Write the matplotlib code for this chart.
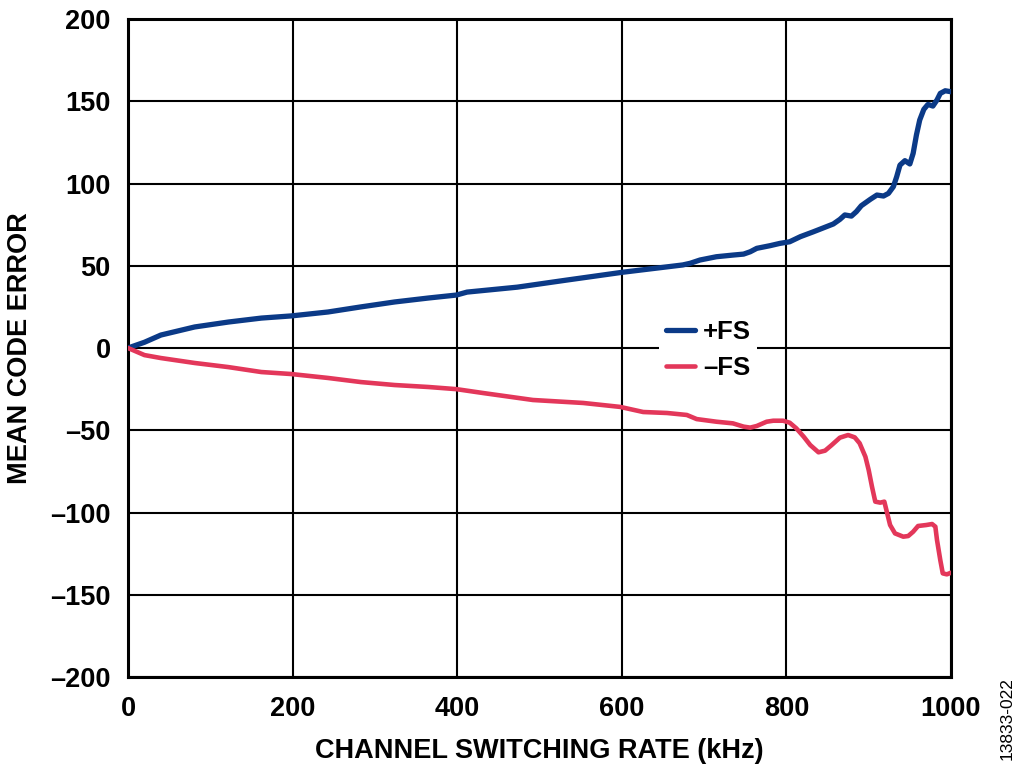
import matplotlib
matplotlib.use("Agg")
import matplotlib.pyplot as plt

plt.rcParams['font.family'] = ['Liberation Sans', 'DejaVu Sans']

pos_x = [0, 20, 40, 81, 122, 162, 198, 243, 283, 324, 365, 399, 412, 473, 533, 600,
         674, 683, 695, 715, 735, 748, 756, 764, 780, 792, 804, 817, 833, 857, 865,
         871, 879, 885, 891, 902, 910, 918, 924, 930, 934, 938, 944, 950, 954, 958,
         962, 967, 972, 978, 983, 987, 993, 1000]
pos_y = [0, 3.5, 7.9, 12.8, 15.8, 18.2, 19.5, 21.9, 25, 28, 30.4, 32.2, 34, 37, 41.3, 46,
         50.5, 51.5, 53.5, 55.5, 56.5, 57.1, 58.5, 60.6, 62.2, 63.6, 64.6, 67.7, 70.7, 75.4,
         78.2, 80.9, 80.2, 82.9, 86.5, 90.4, 93, 92.4, 94, 98.1, 104.1, 111.2, 113.9, 111.9,
         118.3, 129.5, 138.6, 145.1, 148.1, 147.1, 150.8, 154.8, 156.4, 155.8]

neg_x = [0, 20, 40, 81, 122, 162, 198, 243, 283, 324, 365, 399, 432, 492, 553, 598,
         626, 655, 679, 691, 715, 735, 748, 756, 764, 776, 784, 796, 804, 812, 821,
         829, 839, 847, 855, 865, 875, 883, 889, 896, 900, 904, 908, 914, 919, 922,
         926, 932, 942, 948, 954, 960, 970, 977, 981, 983, 987, 990, 995, 1000]
neg_y = [0, -4.3, -6.1, -9.1, -11.6, -14.6, -15.8, -18.2, -20.7, -22.5, -23.7, -25, -27.4,
         -31.6, -33.4, -35.8, -38.9, -39.5, -40.7, -43.2, -44.8, -45.8, -47.8, -48.4, -47.4,
         -44.8, -44.2, -44.2, -45.4, -48.8, -53.9, -59, -63.4, -62.4, -59, -54.5, -52.9,
         -54.3, -57.9, -66.1, -74.2, -84.3, -93.4, -94, -93.4, -99.5, -107.6, -112.7,
         -114.7, -114.3, -111.7, -108.2, -107.6, -107, -108.6, -116.7, -128.9, -137,
         -137.6, -136.6]

x_ticks = [0, 200, 400, 600, 800, 1000]
y_ticks = [200, 150, 100, 50, 0, -50, -100, -150, -200]
y_tick_labels = ['200', '150', '100', '50', '0', '–50', '–100', '–150', '–200']

fig = plt.figure(figsize=(10.24, 7.77), dpi=100)
ax = fig.add_axes([0.125, 0.1287, 0.8037, 0.8468])

ax.plot(pos_x, pos_y, color='#0b3a87', lw=3.8, solid_joinstyle='round',
        solid_capstyle='round', label='+FS', zorder=3)
ax.plot(neg_x, neg_y, color='#e3375a', lw=3.3, solid_joinstyle='round',
        solid_capstyle='round', label='–FS', zorder=3)

ax.set_xlim(0, 1000)
ax.set_ylim(-200, 200)
ax.set_xticks(x_ticks)
ax.set_yticks(y_ticks)
ax.set_yticklabels(y_tick_labels)
ax.grid(True, color='black', lw=1.5)
ax.set_axisbelow(True)
for s in ax.spines.values():
    s.set_linewidth(2.2)
ax.tick_params(length=0, pad=12.5, labelsize=19.5)
ax.tick_params(axis='x', pad=14)
for lab in ax.get_xticklabels() + ax.get_yticklabels():
    lab.set_fontweight('bold')

ax.set_xlabel('CHANNEL SWITCHING RATE (kHz)', fontsize=19.5, fontweight='bold', labelpad=11)
ax.set_ylabel('MEAN CODE ERROR', fontsize=19.5, fontweight='bold', labelpad=12)

leg = ax.legend(loc='center', bbox_to_anchor=(0.705, 0.497), frameon=True, fontsize=18.5,
                handlelength=1.15, handletextpad=0.3, borderpad=0.25, labelspacing=0.5,
                borderaxespad=0)
leg.get_frame().set_facecolor('white')
leg.get_frame().set_edgecolor('none')
leg.get_frame().set_alpha(1)
for t in leg.get_texts():
    t.set_fontweight('bold')

fig.text(0.984, 0.075, '13833-022', rotation=90, fontsize=12.5, ha='center', va='center')

fig.savefig('out.png', dpi=100)
